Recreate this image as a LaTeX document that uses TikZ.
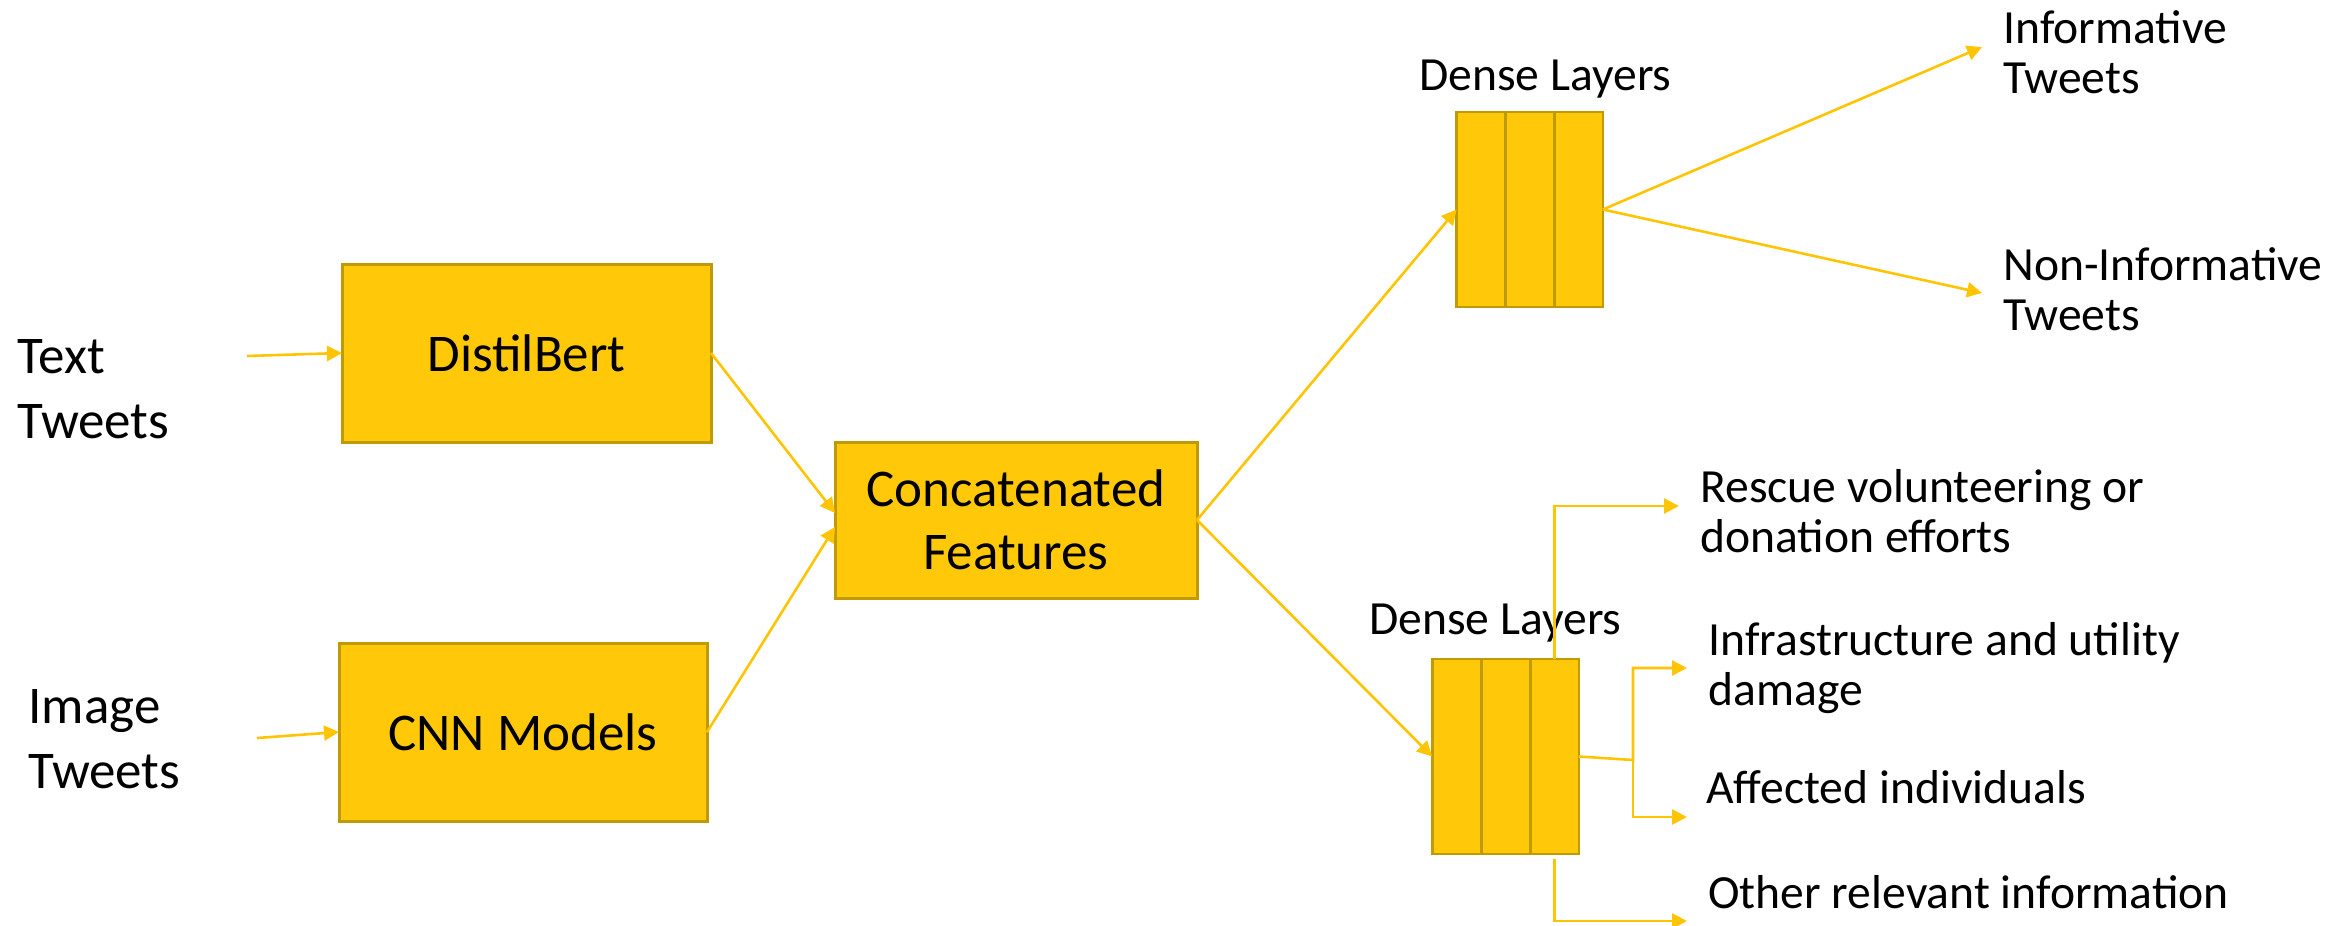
\documentclass[tikz,border=0pt]{standalone}
\usepackage{fontspec}
\setmainfont{Carlito}
\usetikzlibrary{arrows.meta,calc}
\definecolor{boxfill}{HTML}{FFC90A}
\definecolor{boxline}{HTML}{BF9A00}
\definecolor{arrcol}{HTML}{FFC505}
\tikzset{
  box/.style={draw=boxline, fill=boxfill, line width=1.5pt, rectangle, inner sep=0pt, outer sep=0pt, align=center, font=\fontsize{26.5}{31.5}\selectfont},
  col/.style={draw=boxline, fill=boxfill, line width=1.4pt, rectangle, inner sep=0pt, outer sep=0pt, minimum width=24.4pt, minimum height=97.5pt},
  arr/.style={draw=arrcol, line width=1.3pt, -{Triangle[length=7.5pt,width=7.5pt]}},
  lbig/.style={inner sep=0pt, anchor=base west, font=\fontsize{26.5}{32.5}\selectfont},
  lsmall/.style={inner sep=0pt, anchor=base west, font=\fontsize{23.8}{25}\selectfont},
}
\begin{document}
\begin{tikzpicture}[x=0.5pt,y=-0.5pt]
\useasboundingbox (0,0) rectangle (2351,926);
% main boxes
\node[box, minimum width=184.5pt, minimum height=89pt] (db) at (526.5,353) {DistilBert};
\node[box, minimum width=184pt, minimum height=89pt] (cnn) at (523,732) {CNN Models};
\node[box, minimum width=181pt, minimum height=78pt] (cc) at (1016,520) {Concatenated\\Features};
% dense layers top
\node[col] (dt1) at (1481,209.5) {};
\node[col] (dt2) at (1529.5,209.5) {};
\node[col] (dt3) at (1578.5,209.5) {};
% dense layers bottom
\node[col] (dl1) at (1456.5,756.5) {};
\node[col] (dl2) at (1505.5,756.5) {};
\node[col] (dl3) at (1554.5,756.5) {};
% labels
\node[lbig] (tt) at (17,373) {\begin{tabular}[t]{@{}l@{}}Text\\Tweets\end{tabular}};
\node[lbig] (it) at (28,723) {\begin{tabular}[t]{@{}l@{}}Image\\Tweets\end{tabular}};
\node[lsmall] (dlt) at (1419,90) {Dense Layers};
\node[lsmall] (dlb) at (1369,634) {Dense Layers};
\node[lsmall] (inf) at (2003,43) {\begin{tabular}[t]{@{}l@{}}Informative\\Tweets\end{tabular}};
\node[lsmall] (ninf) at (2003,280) {\begin{tabular}[t]{@{}l@{}}Non-Informative\\Tweets\end{tabular}};
\node[lsmall] (res) at (1700,502) {\begin{tabular}[t]{@{}l@{}}Rescue volunteering or\\donation efforts\end{tabular}};
\node[lsmall] (infra) at (1708,655) {\begin{tabular}[t]{@{}l@{}}Infrastructure and utility\\damage\end{tabular}};
\node[lsmall] (aff) at (1706,803) {Affected individuals};
\node[lsmall] (oth) at (1708,908) {Other relevant information};
% coordinates for free ends
\coordinate (ttS) at (247,356);
\coordinate (itS) at (257,738);
\coordinate (infT) at (1982,47);
\coordinate (ninfT) at (1982,293);
\coordinate (resT) at (1679,506);
\coordinate (br) at (1633,760);
\coordinate (infraT) at (1687,668);
\coordinate (affT) at (1687,817);
\coordinate (othT) at (1687,921);
% connectors
\draw[arr] (ttS) -- (db.west);
\draw[arr] (itS) -- (cnn.west);
\draw[arr] (db.east) -- ($(cc.west)+(0,-7)$);
\draw[arr] (cnn.east) -- ($(cc.west)+(0,7)$);
\draw[arr] (cc.east) -- (dt1.west);
\draw[arr] (cc.east) -- (dl1.west);
\draw[arr] (dt3.east) -- (infT);
\draw[arr] (dt3.east) -- (ninfT);
\draw[arr] (dl3.north) |- (resT);
\draw[arr] (dl3.east) -- (br) |- (infraT);
\draw[arr] (br) |- (affT);
\draw[arr] ($(dl3.south)+(0,5)$) |- (othT);
\end{tikzpicture}
\end{document}
